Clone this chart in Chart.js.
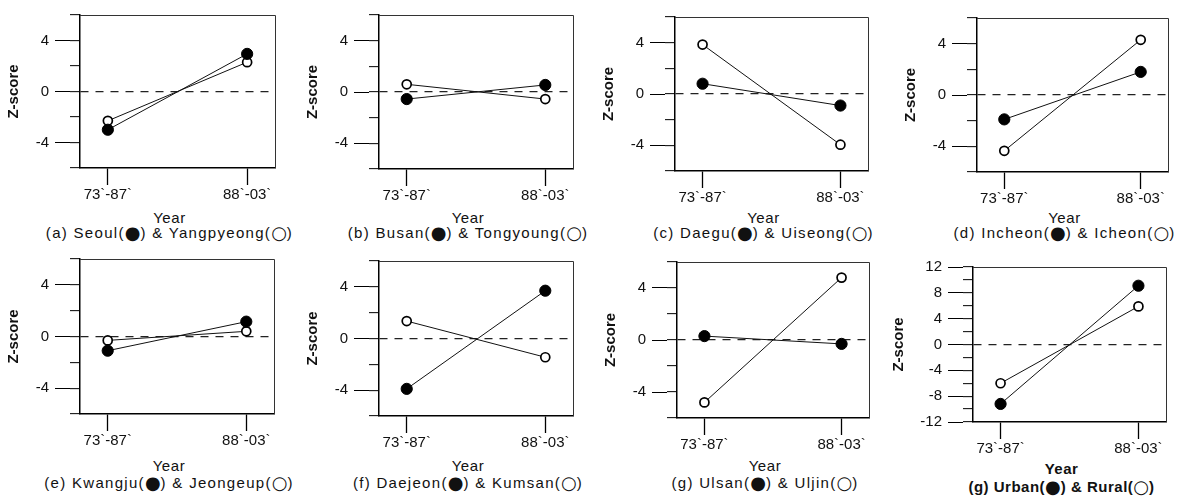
<!DOCTYPE html>
<html><head><meta charset="utf-8">
<script src="https://cdn.jsdelivr.net/npm/chart.js@4/dist/chart.umd.min.js"></script>
<style>
html,body{margin:0;padding:0;background:#fff;}
body{width:1179px;height:499px;overflow:hidden;position:relative;font-family:"Liberation Sans",Arial,sans-serif;color:#111;}
canvas{position:absolute;}
.t{position:absolute;white-space:nowrap;transform:translateX(-50%);font-size:15px;line-height:17px;}
.yr{letter-spacing:0.6px;}
.cap{letter-spacing:1.3px;}
.b{font-weight:bold;letter-spacing:0.5px;}
.sym{font-family:"DejaVu Sans",sans-serif;font-size:18px;line-height:15px;letter-spacing:0;vertical-align:-1px;}
</style></head><body>
<script>
// ---------- data ----------
const periods = ["73`-87`", "88`-03`"];
const captions = [
  "(a) Seoul(●) & Yangpyeong(○)",
  "(b) Busan(●) & Tongyoung(○)",
  "(c) Daegu(●) & Uiseong(○)",
  "(d) Incheon(●) & Icheon(○)",
  "(e) Kwangju(●) & Jeongeup(○)",
  "(f) Daejeon(●) & Kumsan(○)",
  "(g) Ulsan(●) & Uljin(○)",
  "(g) Urban(●) & Rural(○)"
];
const seoul = [-3.0, 2.95],   yangpyeong = [-2.3, 2.3];
const busan = [-0.55, 0.55],  tongyoung = [0.6, -0.55];
const daegu = [0.8, -0.9],    uiseong = [3.85, -3.95];
const incheon = [-1.9, 1.8],  icheon = [-4.35, 4.3];
const kwangju = [-1.1, 1.15], jeongeup = [-0.3, 0.4];
const daejeon = [-3.9, 3.7],  kumsan = [1.35, -1.45];
const ulsan = [0.3, -0.3],    uljin = [-4.8, 4.8];
const urban = [-9.2, 9.1],    rural = [-6.0, 5.9];
const zMajorTicks = [-4, 0, 4];
const zMinorTicks = [-6, -4, -2, 0, 2, 4, 6];
const urbanMajorTicks = [-12, -8, -4, 0, 4, 8, 12];
const urbanMinorTicks = [-12, -10, -8, -6, -4, -2, 0, 2, 4, 6, 8, 10, 12];

// ---------- layout ----------
Chart.defaults.font.family = "'Liberation Sans', Arial, sans-serif";
Chart.defaults.color = '#111';

const panels = [
  {filled: seoul,   open: yangpyeong, cap: 0, L: 80,  R: 275,  T: 10,  B: 168, yt: 209, ct: 224},
  {filled: busan,   open: tongyoung,  cap: 1, L: 379, R: 573,  T: 10,  B: 169, yt: 209, ct: 224},
  {filled: daegu,   open: uiseong,    cap: 2, L: 675, R: 868,  T: 12,  B: 171, yt: 209, ct: 224},
  {filled: incheon, open: icheon,     cap: 3, L: 977, R: 1168, T: 13,  B: 172, yt: 209, ct: 224},
  {filled: kwangju, open: jeongeup,   cap: 4, L: 80,  R: 274,  T: 254, B: 414, yt: 457, ct: 474},
  {filled: daejeon, open: kumsan,     cap: 5, L: 379, R: 573,  T: 256, B: 416, yt: 457, ct: 474},
  {filled: ulsan,   open: uljin,      cap: 6, L: 677, R: 869,  T: 257, B: 418, yt: 457, ct: 474},
  {filled: urban,   open: rural,      cap: 7, L: 973, R: 1166, T: 262, B: 422, yt: 460, ct: 478, urban: true}
];

const framePlugin = {
  id: 'frame',
  beforeDatasetsDraw(chart) {
    const {ctx, chartArea: a} = chart;
    ctx.save();
    ctx.strokeStyle = '#333';
    ctx.lineWidth = 1;
    ctx.beginPath();
    ctx.moveTo(a.left, Math.round(a.top) + 0.5);
    ctx.lineTo(Math.round(a.right) + 0.5, Math.round(a.top) + 0.5);
    ctx.lineTo(Math.round(a.right) + 0.5, a.bottom);
    ctx.stroke();
    ctx.restore();
  }
};

function esc(s) { return s.replace(/&/g, '&amp;').replace(/</g, '&lt;'); }

panels.forEach(p => {
  const yw = p.urban ? 83 : 75;
  const padTop = 10, padRight = 10, xh = 36;
  const W = (p.R - p.L) + yw + padRight;
  const H = (p.B - p.T) + padTop + xh;
  const cv = document.createElement('canvas');
  cv.width = W; cv.height = H;
  cv.style.left = (p.L - yw) + 'px';
  cv.style.top = (p.T - padTop) + 'px';
  cv.style.width = W + 'px'; cv.style.height = H + 'px';
  document.body.appendChild(cv);

  const major = p.urban ? urbanMajorTicks : zMajorTicks;
  const minor = p.urban ? urbanMinorTicks : zMinorTicks;
  const ymin = minor[0], ymax = minor[minor.length - 1];

  new Chart(cv.getContext('2d'), {
    type: 'line',
    data: {
      datasets: [
        {
          data: p.filled.map((v, i) => ({x: i, y: v})),
          borderColor: '#111', borderWidth: 1,
          pointRadius: 5.6, pointBackgroundColor: '#000', pointBorderColor: '#000', pointBorderWidth: 1,
          tension: 0
        },
        {
          data: p.open.map((v, i) => ({x: i, y: v})),
          borderColor: '#111', borderWidth: 1,
          pointRadius: 4.5, pointBackgroundColor: '#fff', pointBorderColor: '#000', pointBorderWidth: 1.7,
          tension: 0
        }
      ]
    },
    options: {
      responsive: false, animation: false, devicePixelRatio: 1,
      layout: {padding: {top: padTop, right: padRight, left: 0, bottom: 0}},
      plugins: {legend: {display: false}, tooltip: {enabled: false}, title: {display: false}},
      scales: {
        x: {
          type: 'linear', min: -0.2, max: 1.2,
          afterBuildTicks: s => { s.ticks = periods.map((_, i) => ({value: i})); },
          ticks: {callback: v => periods[v], autoSkip: false, maxRotation: 0, padding: 1, font: {size: 15}, color: '#111'},
          grid: {drawOnChartArea: false, tickLength: 17, tickColor: '#000', tickWidth: 1.3, color: '#000'},
          border: {display: true, color: '#000', width: 1.5},
          afterFit: s => { s.height = xh; }
        },
        y: {
          position: 'left', weight: 1, min: ymin, max: ymax,
          afterBuildTicks: s => { s.ticks = major.map(v => ({value: v})); },
          ticks: {padding: 6, font: {size: 15}, color: '#111', callback: v => String(v)},
          grid: {drawOnChartArea: false, tickLength: 15, tickColor: '#000', tickWidth: 1, color: '#000'},
          border: {display: false},
          title: {display: true, text: 'Z-score', font: {size: 15, weight: 'bold'}, color: '#111', padding: 0},
          afterFit: s => { s.width = yw - 10; }
        },
        y2: {
          position: 'left', weight: 0, min: ymin, max: ymax,
          afterBuildTicks: s => { s.ticks = minor.map(v => ({value: v})); },
          ticks: {display: false},
          grid: {
            drawOnChartArea: true, tickLength: 10, tickColor: '#000', tickWidth: 1,
            color: c => (c.tick && c.tick.value === 0) ? '#222' : 'rgba(0,0,0,0)',
            lineWidth: 1.3
          },
          border: {display: true, color: '#000', width: 1.5, dash: [8, 7]},
          afterFit: s => { s.width = 10; }
        }
      }
    },
    plugins: [framePlugin]
  });

  const cx = (p.L + p.R) / 2 - 8;
  const y = document.createElement('div');
  y.className = 't ' + (p.urban ? 'b' : 'yr');
  y.style.left = cx + 'px'; y.style.top = p.yt + 'px';
  y.textContent = 'Year';
  document.body.appendChild(y);
  const c = document.createElement('div');
  c.className = 't ' + (p.urban ? 'b' : 'cap');
  c.style.left = cx + 'px'; c.style.top = p.ct + 'px';
  c.innerHTML = esc(captions[p.cap]).replace(/[●○]/g, m => '<span class="sym">' + m + '</span>');
  document.body.appendChild(c);
});
</script>
</body></html>
